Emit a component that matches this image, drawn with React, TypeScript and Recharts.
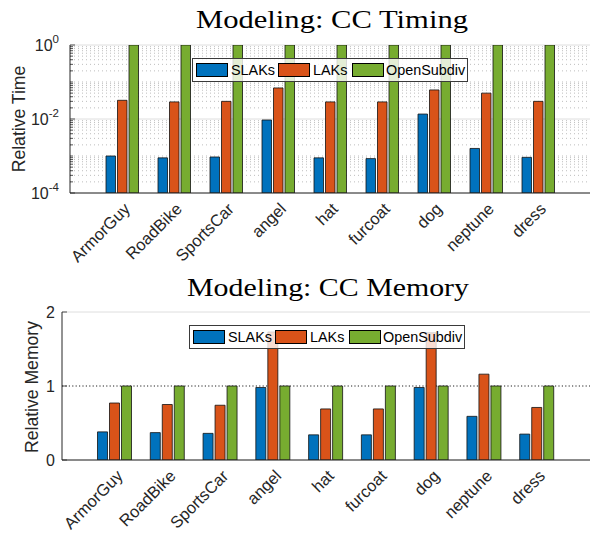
import React from 'react';
import { BarChart, Bar, XAxis, YAxis, CartesianGrid, Legend } from 'recharts';

// ---------- data ----------
const categories = ['ArmorGuy', 'RoadBike', 'SportsCar', 'angel', 'hat', 'furcoat', 'dog', 'neptune', 'dress'];
const seriesNames = ['SLAKs', 'LAKs', 'OpenSubdiv'];

const timeSLAKs = [1.0e-3, 8.9e-4, 9.4e-4, 9.4e-3, 8.9e-4, 8.5e-4, 1.36e-2, 1.6e-3, 9.2e-4];
const timeLAKs = [0.032, 0.029, 0.030, 0.069, 0.029, 0.029, 0.061, 0.050, 0.030];
const timeOpenSubdiv = [1, 1, 1, 1, 1, 1, 1, 1, 1];

const memSLAKs = [0.38, 0.37, 0.36, 0.98, 0.34, 0.34, 0.98, 0.59, 0.35];
const memLAKs = [0.77, 0.75, 0.74, 1.73, 0.69, 0.69, 1.72, 1.16, 0.71];
const memOpenSubdiv = [1, 1, 1, 1, 1, 1, 1, 1, 1];

const timeTickExponents = [-4, -2, 0];
const memTicks = [0, 1, 2];

// ---------- derived tables ----------
const LOG_FLOOR = -4;
const timeData = categories.map((name, i) => ({
  name,
  SLAKs: Math.log10(timeSLAKs[i]) - LOG_FLOOR,
  LAKs: Math.log10(timeLAKs[i]) - LOG_FLOOR,
  OpenSubdiv: Math.log10(timeOpenSubdiv[i]) - LOG_FLOOR,
}));
const memData = categories.map((name, i) => ({
  name,
  SLAKs: memSLAKs[i],
  LAKs: memLAKs[i],
  OpenSubdiv: memOpenSubdiv[i],
}));

const majorLogTicks = timeTickExponents.map((e) => e - LOG_FLOOR);
const minorLogTicks: number[] = [];
for (let d = 0; d < 4; d++) {
  for (let k = 1; k <= 9; k++) {
    const v = d + Math.log10(k);
    if (!majorLogTicks.some((m) => Math.abs(m - v) < 1e-9)) minorLogTicks.push(v);
  }
}
const allLogTicks = [...majorLogTicks, ...minorLogTicks].sort((a, b) => a - b);

const COLORS = ['#0072BD', '#D95319', '#77AC30'];
const TXT = '#262626';
const SANS = '"Liberation Sans", Arial, Helvetica, sans-serif';
const SERIF = '"Liberation Serif", "Times New Roman", serif';

// ---------- ticks ----------
const LogYTick = (props: any) => {
  const { x, y, payload } = props;
  const v = payload.value;
  const isMajor = majorLogTicks.some((m) => Math.abs(m - v) < 1e-9);
  const exp = Math.round(v + LOG_FLOOR);
  return (
    <g>
      <line x1={x} x2={x + (isMajor ? 5 : 3)} y1={y} y2={y} stroke={TXT} strokeWidth={0.8} />
      {isMajor && (
        <text x={x - 11} y={y + 6} textAnchor="end" fontSize={16} fill={TXT} fontFamily={SANS}>
          10
          <tspan dy={-8} fontSize={11.5}>{exp}</tspan>
        </text>
      )}
    </g>
  );
};

const LinYTick = (props: any) => {
  const { x, y, payload } = props;
  return (
    <g>
      <line x1={x} x2={x + 5} y1={y} y2={y} stroke={TXT} strokeWidth={0.8} />
      <text x={x - 7} y={y + 6} textAnchor="end" fontSize={16} fill={TXT} fontFamily={SANS}>
        {payload.value}
      </text>
    </g>
  );
};

const XTick = (props: any) => {
  const { x, y, payload } = props;
  const tx = x + 9;
  const ty = y + 17;
  return (
    <text
      x={tx}
      y={ty}
      transform={`rotate(-45, ${tx}, ${ty})`}
      textAnchor="end"
      fontSize={16.5}
      fill={TXT}
      fontFamily={SANS}
    >
      {payload.value}
    </text>
  );
};

// ---------- legend ----------
const swatchX = [4, 86, 160];
const textX = [39, 121, 194];
const LegendBox = () => (
  <div
    style={{
      position: 'relative',
      width: 276,
      height: 24,
      boxSizing: 'border-box',
      border: '1px solid #3a3a3a',
      background: 'rgba(255,255,255,0.8)',
      fontFamily: SANS,
      fontSize: 14.4,
      color: '#000',
    }}
  >
    {seriesNames.map((n, i) => (
      <React.Fragment key={n}>
        <div
          style={{
            position: 'absolute',
            left: swatchX[i] - 1,
            top: 4,
            width: 32,
            height: 14,
            boxSizing: 'border-box',
            background: COLORS[i],
            border: '1px solid #000',
          }}
        />
        <div style={{ position: 'absolute', left: textX[i] - 1, top: 2, lineHeight: '18px', whiteSpace: 'nowrap' }}>{n}</div>
      </React.Fragment>
    ))}
  </div>
);

const CHART_H = 267;

export default function App() {
  return (
    <div style={{ position: 'absolute', left: 0, top: 0, width: 590, height: 534, background: '#fff', overflow: 'hidden' }}>
      {/* Timing chart */}
      <div style={{ position: 'absolute', left: 0, top: 0 }}>
        <BarChart
          width={590}
          height={CHART_H}
          data={timeData}
          margin={{ top: 45, right: 0, bottom: 0, left: 0 }}
          barSize={9.5}
          barGap={2}
        >
          <CartesianGrid vertical={false} horizontalValues={minorLogTicks} stroke="#bdbdbd" strokeDasharray="1 3" />
          <CartesianGrid vertical={false} horizontalValues={majorLogTicks} stroke="#dedede" />
          <XAxis
            dataKey="name"
            type="category"
            height={74}
            padding={{ left: 26, right: 26 }}
            interval={0}
            tick={<XTick />}
            tickLine={false}
            tickSize={0}
            tickMargin={0}
            axisLine={{ stroke: TXT }}
          />
          <YAxis
            type="number"
            width={70}
            domain={[0, 4]}
            ticks={allLogTicks}
            interval={0}
            tick={<LogYTick />}
            tickLine={false}
            tickSize={0}
            tickMargin={0}
            axisLine={{ stroke: TXT }}
            allowDataOverflow
          />
          <Legend
            layout="horizontal"
            verticalAlign="middle"
            align="center"
            content={() => <LegendBox />}
            wrapperStyle={{ left: 192, top: 58, width: 276, height: 24 }}
          />
          {seriesNames.map((s, i) => (
            <Bar key={s} dataKey={s} fill={COLORS[i]} stroke="#111" strokeWidth={0.8} isAnimationActive={false} />
          ))}
        </BarChart>
      </div>

      {/* Memory chart */}
      <div style={{ position: 'absolute', left: 0, top: CHART_H }}>
        <BarChart
          width={590}
          height={CHART_H}
          data={memData}
          margin={{ top: 45, right: 0, bottom: 0, left: 0 }}
          barSize={10}
          barGap={2}
        >
          <CartesianGrid vertical={false} horizontalValues={[0, 2]} stroke="#dedede" />
          <CartesianGrid vertical={false} horizontalValues={[1]} stroke="#222" strokeDasharray="1.2 2.2" />
          <XAxis
            dataKey="name"
            type="category"
            height={74}
            padding={{ left: 26.5, right: 26.5 }}
            interval={0}
            tick={<XTick />}
            tickLine={false}
            tickSize={0}
            tickMargin={0}
            axisLine={{ stroke: TXT }}
          />
          <YAxis
            type="number"
            width={62}
            domain={[0, 2]}
            ticks={memTicks}
            interval={0}
            tick={<LinYTick />}
            tickLine={false}
            tickSize={0}
            tickMargin={0}
            axisLine={{ stroke: TXT }}
            allowDataOverflow
          />
          <Legend
            layout="horizontal"
            verticalAlign="middle"
            align="center"
            content={() => <LegendBox />}
            wrapperStyle={{ left: 189, top: 58, width: 276, height: 24 }}
          />
          {seriesNames.map((s, i) => (
            <Bar key={s} dataKey={s} fill={COLORS[i]} stroke="#111" strokeWidth={0.8} isAnimationActive={false} />
          ))}
        </BarChart>
      </div>

      {/* titles and axis labels */}
      <svg width={590} height={534} style={{ position: 'absolute', left: 0, top: 0, pointerEvents: 'none' }}>
        <text
          x={332}
          y={28}
          textAnchor="middle"
          fontSize={26}
          fontFamily={SERIF}
          fill="#000"
          textLength={272}
          lengthAdjust="spacingAndGlyphs"
        >
          Modeling: CC Timing
        </text>
        <text
          x={328}
          y={296}
          textAnchor="middle"
          fontSize={26}
          fontFamily={SERIF}
          fill="#000"
          textLength={282}
          lengthAdjust="spacingAndGlyphs"
        >
          Modeling: CC Memory
        </text>
        <text
          x={25}
          y={119}
          transform="rotate(-90, 25, 119)"
          textAnchor="middle"
          fontSize={17.6}
          fontFamily={SANS}
          fill={TXT}
        >
          Relative Time
        </text>
        <text
          x={38}
          y={387}
          transform="rotate(-90, 38, 387)"
          textAnchor="middle"
          fontSize={17.6}
          fontFamily={SANS}
          fill={TXT}
        >
          Relative Memory
        </text>
      </svg>
    </div>
  );
}
